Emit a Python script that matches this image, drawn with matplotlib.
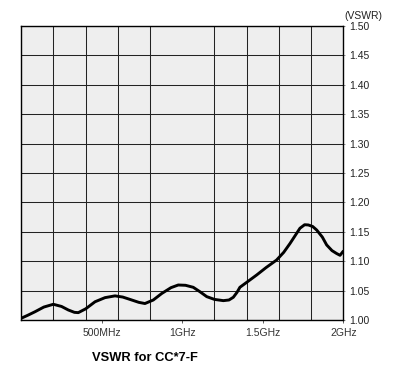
import matplotlib
matplotlib.use("Agg")
import matplotlib.pyplot as plt
import numpy as np

plt.rcParams['font.family'] = ['Liberation Sans', 'DejaVu Sans']

# measured VSWR vs frequency (GHz)
freq = [0.0, 0.04, 0.085, 0.14, 0.199, 0.25, 0.292, 0.33, 0.354, 0.40,
        0.458, 0.52, 0.582, 0.63, 0.675, 0.73, 0.768, 0.82, 0.872, 0.93,
        0.975, 1.02, 1.068, 1.11, 1.152, 1.20, 1.255, 1.29, 1.317, 1.34,
        1.358, 1.40, 1.462, 1.52, 1.586, 1.63, 1.669, 1.70, 1.731, 1.76,
        1.783, 1.81, 1.835, 1.87, 1.897, 1.93, 1.959, 1.98, 2.0]
vswr = [1.003, 1.008, 1.014, 1.022, 1.0267, 1.023, 1.017, 1.013, 1.0125, 1.019,
        1.031, 1.038, 1.041, 1.039, 1.035, 1.030, 1.028, 1.034, 1.045, 1.055,
        1.0595, 1.059, 1.0556, 1.048, 1.0397, 1.035, 1.0329, 1.034, 1.0386, 1.047,
        1.0556, 1.064, 1.0765, 1.089, 1.102, 1.115, 1.130, 1.143, 1.156, 1.162,
        1.1616, 1.159, 1.153, 1.141, 1.1276, 1.118, 1.113, 1.110, 1.117]

xtick_pos = [0.5, 1.0, 1.5, 2.0]
xtick_labels = ['500MHz', '1GHz', '1.5GHz', '2GHz']
ytick_pos = [1.00, 1.05, 1.10, 1.15, 1.20, 1.25, 1.30, 1.35, 1.40, 1.45, 1.50]

fig = plt.figure(figsize=(3.96, 3.71), dpi=100)
ax = fig.add_axes([0.0538, 0.1375, 0.813, 0.7925])
ax.set_facecolor('#eeeeee')

ax.plot(freq, vswr, color='black', lw=2.1, solid_joinstyle='round',
        solid_capstyle='round', zorder=3)

ax.set_xlim(0, 2.0)
ax.set_ylim(1.0, 1.5)

ax.set_xticks(xtick_pos)
ax.set_xticklabels(xtick_labels)
ax.set_xticks(np.arange(0, 2.01, 0.2), minor=True)
ax.set_yticks(ytick_pos)
ax.set_yticklabels([f'{v:.2f}' for v in ytick_pos])

ax.yaxis.tick_right()
ax.tick_params(axis='x', which='major', length=2.5, width=0.6, color='#444',
               labelsize=7.5, labelcolor='#333', pad=3)
ax.tick_params(axis='x', which='minor', length=0)
ax.tick_params(axis='y', length=1.5, width=0.5, color='#666',
               labelsize=7.5, labelcolor='#222', pad=2.5)

ax.grid(False)
ax.grid(True, axis='x', which='minor', color='#222', lw=0.75, zorder=1)
ax.grid(True, axis='y', which='major', color='#222', lw=0.75, zorder=1)
ax.set_axisbelow(True)

for s in ax.spines.values():
    s.set_color('black')
    s.set_linewidth(1.0)

fig.text(0.918, 0.958, '(VSWR)', fontsize=7.5, color='#222',
         ha='center', va='center')
fig.text(0.367, 0.035, 'VSWR for CC*7-F', fontsize=9.3, fontweight='bold',
         ha='center', va='center')

fig.savefig('out.png', dpi=100)
